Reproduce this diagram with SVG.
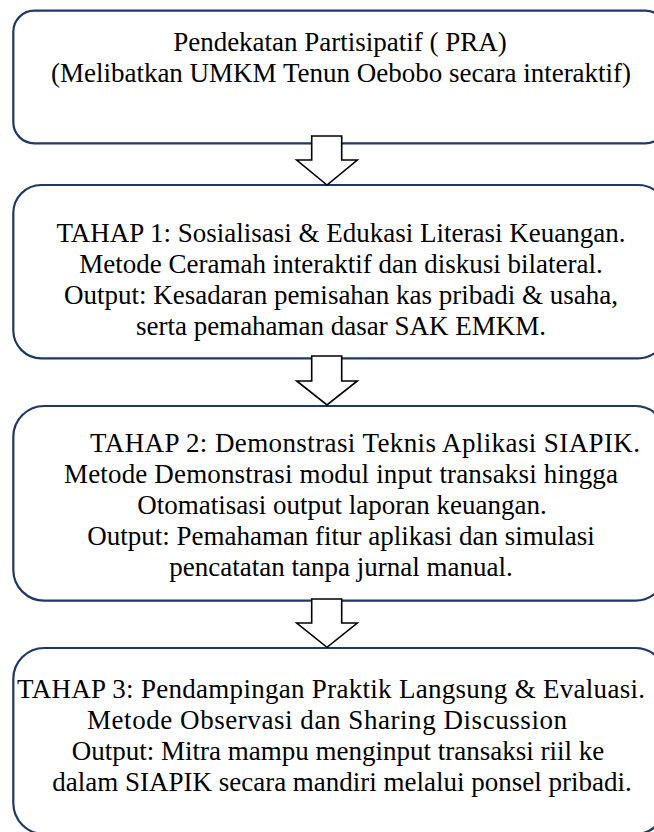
<svg xmlns="http://www.w3.org/2000/svg" width="654" height="832" viewBox="0 0 654 832">
<style>
.box{fill:#ffffff;stroke:#1f3864;stroke-width:2.2}
.arrow{fill:#ffffff;stroke:#000000;stroke-width:1.6;stroke-linejoin:miter}
.t{font-family:'Liberation Serif','Times New Roman',Times,serif;font-size:27px;fill:#000000;text-anchor:middle}
</style>
<rect width="654" height="832" fill="#ffffff"/>
<g id="node-pra">
<rect class="box" x="13.3" y="10.7" width="653" height="132.6" rx="21" ry="21"/>
<g class="t" font-family="Liberation Serif, Times New Roman, serif" font-size="27" text-anchor="middle">
<text x="340" y="50.5">Pendekatan Partisipatif ( PRA)</text>
<text x="341" y="81.5">(Melibatkan UMKM Tenun Oebobo secara interaktif)</text>
</g>
</g>
<g id="node-tahap1">
<rect class="box" x="13.3" y="185" width="653" height="173.3" rx="28" ry="28"/>
<g class="t" font-family="Liberation Serif, Times New Roman, serif" font-size="27" text-anchor="middle">
<text x="341" y="242">TAHAP 1: Sosialisasi &amp; Edukasi Literasi Keuangan.</text>
<text x="341" y="273">Metode Ceramah interaktif dan diskusi bilateral.</text>
<text x="341" y="304">Output: Kesadaran pemisahan kas pribadi &amp; usaha,</text>
<text x="341" y="335">serta pemahaman dasar SAK EMKM.</text>
</g>
</g>
<g id="node-tahap2">
<rect class="box" x="13.3" y="406" width="653" height="194.7" rx="31" ry="31"/>
<g class="t" font-family="Liberation Serif, Times New Roman, serif" font-size="27" text-anchor="middle">
<text x="365" y="452" textLength="550" lengthAdjust="spacing">TAHAP 2: Demonstrasi Teknis Aplikasi SIAPIK.</text>
<text x="341" y="483" textLength="554" lengthAdjust="spacing">Metode Demonstrasi modul input transaksi hingga</text>
<text x="342" y="514">Otomatisasi output laporan keuangan.</text>
<text x="341" y="545">Output: Pemahaman fitur aplikasi dan simulasi</text>
<text x="341" y="576">pencatatan tanpa jurnal manual.</text>
</g>
</g>
<g id="node-tahap3">
<rect class="box" x="13.3" y="648" width="653" height="186" rx="31" ry="31"/>
<g class="t" font-family="Liberation Serif, Times New Roman, serif" font-size="27" text-anchor="middle">
<text x="331" y="698" textLength="628" lengthAdjust="spacing">TAHAP 3: Pendampingan Praktik Langsung &amp; Evaluasi.</text>
<text x="327" y="729" textLength="480" lengthAdjust="spacing">Metode Observasi dan Sharing Discussion</text>
<text x="338" y="760">Output: Mitra mampu menginput transaksi riil ke</text>
<text x="342" y="791">dalam SIAPIK secara mandiri melalui ponsel pribadi.</text>
</g>
</g>
<g id="connectors">
<polygon class="arrow" points="311.7,136 341.7,136 341.7,160 357.3,160 327,185 296.7,160 311.7,160"/>
<polygon class="arrow" points="311.7,356 341.7,356 341.7,381 357.3,381 327,405 296.7,381 311.7,381"/>
<polygon class="arrow" points="311.7,599 341.7,599 341.7,623 357.3,623 327,647.3 296.7,623 311.7,623"/>
</g>
</svg>
